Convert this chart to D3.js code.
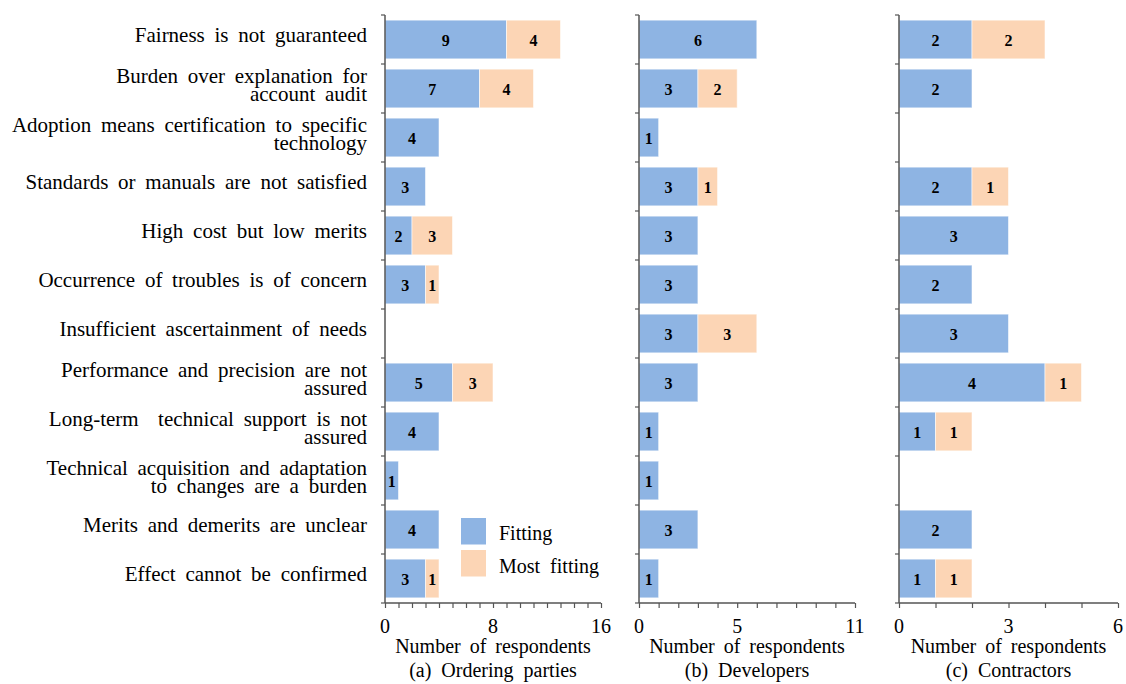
<!DOCTYPE html>
<html><head><meta charset="utf-8">
<script src="https://cdn.jsdelivr.net/npm/d3@7"></script>
<style>body{margin:0;background:#fff}svg{display:block}</style>
</head><body>
<svg id="c" width="1126" height="684"></svg>
<script>
const categories = [
  "Fairness is not guaranteed",
  "Burden over explanation for\naccount audit",
  "Adoption means certification to specific\ntechnology",
  "Standards or manuals are not satisfied",
  "High cost but low merits",
  "Occurrence of troubles is of concern",
  "Insufficient ascertainment of needs",
  "Performance and precision are not\nassured",
  "Long-term  technical support is not\nassured",
  "Technical acquisition and adaptation\nto changes are a burden",
  "Merits and demerits are unclear",
  "Effect cannot be confirmed"
];
const seriesNames = ["Fitting", "Most fitting"];
const orderingFitting     = [9,7,4,3,2,3,0,5,4,1,4,3];
const orderingMost        = [4,4,0,0,3,1,0,3,0,0,0,1];
const developersFitting   = [6,3,1,3,3,3,3,3,1,1,3,1];
const developersMost      = [0,2,0,1,0,0,3,0,0,0,0,0];
const contractorsFitting  = [2,2,0,2,3,2,3,4,1,0,2,1];
const contractorsMost     = [2,0,0,1,0,0,0,1,1,0,0,1];
const panelTitles = ["(a) Ordering parties", "(b) Developers", "(c) Contractors"];
const axisTitle = "Number of respondents";
const xMaxes = [16, 11, 6];
const xTickLabels = [[0,8,16],[0,5,11],[0,3,6]];

const colors = ["#8EB4E3", "#FCD5B5"];
const font = "'Liberation Serif','Times New Roman',serif";
const axisColor = "#555";

const svg = d3.select("#c");
const plotTop = 15, plotBottom = 603;
const panelX = [[385,601],[639,855],[899,1118]];
const panelData = [
  [orderingFitting, orderingMost],
  [developersFitting, developersMost],
  [contractorsFitting, contractorsMost]
];

const y = d3.scaleBand().domain(d3.range(categories.length)).range([plotTop, plotBottom])
  .paddingInner(0.21).paddingOuter(0.105);

// category labels
const lab = svg.append("g").attr("font-family", font).attr("font-size", 21)
  .attr("word-spacing", 4.5).attr("fill", "#000").attr("text-anchor", "end");
categories.forEach((c, i) => {
  const lines = c.split("\n");
  const cy = y(i) + y.bandwidth()/2;
  const t = lab.append("text").attr("x", 367).attr("xml:space", "preserve");
  if (lines.length === 1) {
    t.append("tspan").attr("x", 367).attr("y", cy + 2.5).text(lines[0]);
  } else {
    t.append("tspan").attr("x", 367).attr("y", cy - 5.5).text(lines[0]);
    t.append("tspan").attr("x", 367).attr("y", cy + 12.5).text(lines[1]);
  }
});

panelData.forEach((series, p) => {
  const x = d3.scaleLinear().domain([0, xMaxes[p]]).range(panelX[p]);
  const g = svg.append("g");
  const stacks = categories.map((c, i) => {
    let acc = 0;
    return series.map((s, k) => { const v = s[i]; const r = {i, k, v, x0: acc, x1: acc + v}; acc += v; return r; });
  }).flat().filter(d => d.v > 0);
  g.selectAll("rect.bar").data(stacks).join("rect")
    .attr("x", d => x(d.x0)).attr("width", d => x(d.x1) - x(d.x0))
    .attr("y", d => y(d.i)).attr("height", y.bandwidth())
    .attr("fill", d => colors[d.k])
    .attr("stroke", "rgba(255,255,255,0.55)").attr("stroke-width", 1);
  g.selectAll("text.val").data(stacks).join("text")
    .attr("x", d => (x(d.x0) + x(d.x1))/2)
    .attr("y", d => y(d.i) + y.bandwidth()/2 + 6)
    .attr("text-anchor", "middle").attr("font-family", font)
    .attr("font-weight", "bold").attr("font-size", 16).attr("fill", "#000")
    .text(d => d.v);

  const xa = g.append("g").attr("transform", `translate(0,${plotBottom})`)
    .call(d3.axisBottom(x).tickValues(d3.range(0, xMaxes[p] + 1)).tickSize(5).tickFormat(""));
  xa.select(".domain").attr("stroke", axisColor).attr("stroke-width", 1.5).attr("d", `M${panelX[p][0]},0H${panelX[p][1]}`);
  xa.selectAll(".tick line").attr("stroke", axisColor).attr("stroke-width", 1.2);
  g.selectAll("text.xt").data(xTickLabels[p]).join("text")
    .attr("x", d => x(d)).attr("y", 633).attr("text-anchor", "middle")
    .attr("font-family", font).attr("font-size", 20).text(d => d);

  const ya = g.append("g").attr("transform", `translate(${panelX[p][0]},0)`);
  ya.append("line").attr("x1", 0).attr("x2", 0).attr("y1", plotTop).attr("y2", plotBottom)
    .attr("stroke", axisColor).attr("stroke-width", 1.5);
  ya.selectAll("line.t").data(d3.range(categories.length + 1)).join("line")
    .attr("x1", -4).attr("x2", 0)
    .attr("y1", d => plotTop + d * y.step()).attr("y2", d => plotTop + d * y.step())
    .attr("stroke", axisColor).attr("stroke-width", 1.2);

  const cx = (panelX[p][0] + panelX[p][1]) / 2;
  g.append("text").attr("x", cx).attr("y", 653).attr("text-anchor", "middle")
    .attr("font-family", font).attr("font-size", 20).attr("word-spacing", 4).text(axisTitle);
  g.append("text").attr("x", cx).attr("y", 677).attr("text-anchor", "middle")
    .attr("font-family", font).attr("font-size", 20).attr("word-spacing", 5).text(panelTitles[p]);
});

const lg = svg.append("g").attr("font-family", font).attr("font-size", 20).attr("word-spacing", 5);
seriesNames.forEach((n, k) => {
  lg.append("rect").attr("x", 461).attr("y", 518 + k * 32).attr("width", 25).attr("height", 26.5).attr("fill", colors[k]);
  lg.append("text").attr("x", 499).attr("y", 540 + k * 32.5).text(n);
});
</script>
</body></html>
